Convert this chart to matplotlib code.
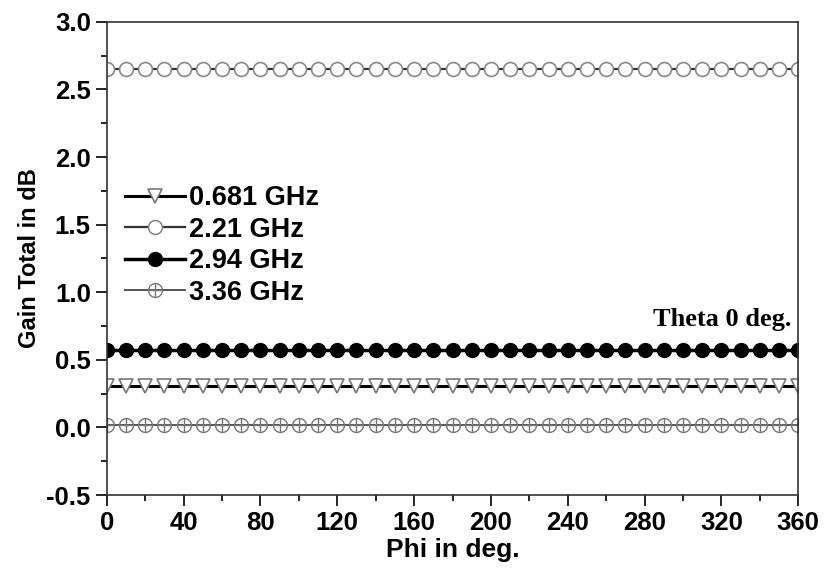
import matplotlib
matplotlib.use("Agg")
import matplotlib.pyplot as plt
import numpy as np

# data
phi = np.arange(0, 361, 10)
gain_0681 = [0.31] * len(phi)
gain_221 = [2.65] * len(phi)
gain_294 = [0.57] * len(phi)
gain_336 = [0.02] * len(phi)

labels = ["0.681 GHz", "2.21 GHz", "2.94 GHz", "3.36 GHz"]
x_ticks = list(range(0, 361, 40))
y_ticks = [-0.5, 0.0, 0.5, 1.0, 1.5, 2.0, 2.5, 3.0]

plt.rcParams["font.family"] = ["Liberation Sans", "DejaVu Sans"]
plt.rcParams["font.weight"] = "bold"

fig = plt.figure(figsize=(8.28, 5.75), dpi=100)
ax = fig.add_axes([0.129, 0.139, 0.835, 0.823])

l1, = ax.plot(phi, gain_0681, color="black", lw=2.2, marker="v", ms=10,
              mfc="white", mec="#777777", mew=1.2)
l2, = ax.plot(phi, gain_221, color="#333333", lw=1.6, marker="o", ms=10,
              mfc="white", mec="#888888", mew=1.2)
l3, = ax.plot(phi, gain_294, color="black", lw=2.5, marker="o", ms=10,
              mfc="black", mec="black")
l4a, = ax.plot(phi, gain_336, color="#555555", lw=1.4, marker="o", ms=10,
               mfc="none", mec="#777777", mew=1.0)
l4b, = ax.plot(phi, gain_336, color="#555555", lw=0, marker="+", ms=10,
               mec="#777777", mew=1.0)

ax.legend([l1, l2, l3, (l4a, l4b)], labels, loc="upper left",
          bbox_to_anchor=(-0.005, 0.70), frameon=False, fontsize=19.5,
          handlelength=2.2, handletextpad=0.15, labelspacing=0.2,
          borderpad=0.3)

ax.text(0.99, 0.37, "Theta 0 deg.", transform=ax.transAxes, ha="right",
        va="center", fontsize=19, fontweight="bold",
        family=["Liberation Serif", "DejaVu Serif"])

ax.set_xlim(0, 360)
ax.set_ylim(-0.5, 3.0)
ax.set_xticks(x_ticks)
ax.set_yticks(y_ticks)
ax.set_yticklabels([f"{v:.1f}" for v in y_ticks])
ax.set_xticks(range(0, 361, 20), minor=True)
ax.set_yticks(np.arange(-0.5, 3.01, 0.25), minor=True)
ax.tick_params(which="both", direction="out", labelsize=18.5, width=1.2)
ax.tick_params(which="major", length=8)
ax.tick_params(which="minor", length=4)
for s in ax.spines.values():
    s.set_linewidth(1.2)
    s.set_color("#333333")

ax.set_xlabel("Phi in deg.", fontsize=19, fontweight="bold", labelpad=2)
ax.set_ylabel("Gain Total in dB", fontsize=17, fontweight="bold", labelpad=4)

fig.savefig("out.png", dpi=100)
